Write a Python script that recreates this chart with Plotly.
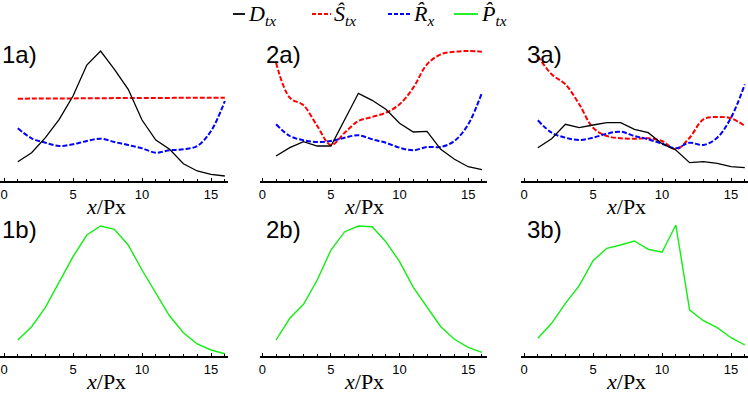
import plotly.graph_objects as go

# pixel position along the strip
x_px = list(range(1, 17))

# top row (a): D_tx, S_tx, R_x  (arbitrary units)
d_1a = [19.3, 28.3, 43.3, 61.7, 85.0, 116.0, 130.0, 111.7, 91.7, 61.0, 41.0, 31.7, 17.3, 10.0, 6.7, 5.0]
s_1a = [82.3, 82.4, 82.5, 82.5, 82.6, 82.7, 82.8, 82.9, 83.0, 83.0, 83.1, 83.1, 83.2, 83.2, 83.3, 83.3]
r_1a = [52.7, 42.7, 38.3, 35.0, 36.7, 40.0, 42.3, 39.0, 36.0, 32.7, 28.3, 30.7, 31.7, 35.0, 50.0, 80.0]

d_2a = [25.0, 33.3, 39.3, 35.0, 35.0, 61.7, 87.7, 80.7, 71.7, 57.7, 49.0, 49.7, 31.7, 21.7, 14.3, 11.3]
s_2a = [118.3, 83.3, 75.7, 55.0, 36.0, 48.3, 60.0, 64.0, 68.3, 76.7, 93.3, 116.7, 126.7, 129.3, 130.0, 129.3]
r_2a = [56.7, 45.0, 40.7, 39.0, 40.0, 43.3, 45.7, 41.7, 38.3, 33.3, 30.7, 34.0, 34.0, 40.0, 56.7, 88.3]

d_3a = [33.3, 42.3, 56.7, 53.3, 56.0, 58.3, 58.3, 51.7, 48.3, 37.3, 31.0, 18.3, 19.3, 17.7, 14.3, 13.3]
s_3a = [125.0, 106.7, 96.7, 76.7, 53.3, 45.0, 42.7, 42.3, 42.7, 40.0, 31.7, 43.3, 61.7, 64.0, 62.7, 55.0]
r_3a = [60.7, 48.3, 43.3, 41.0, 43.3, 47.3, 49.3, 45.0, 41.7, 37.3, 32.7, 38.3, 36.0, 43.3, 63.3, 96.7]

# bottom row (b): P_tx
p_1b = [16.0, 29.3, 48.7, 74.3, 99.3, 121.0, 130.0, 126.7, 111.0, 86.0, 62.7, 40.0, 23.3, 12.0, 6.0, 2.3]
p_2b = [16.0, 37.7, 51.7, 76.0, 106.0, 124.3, 130.0, 129.3, 114.3, 94.3, 68.7, 48.7, 29.3, 16.7, 8.7, 3.7]
p_3b = [17.7, 32.7, 52.7, 70.3, 95.3, 107.7, 111.0, 115.0, 106.7, 103.7, 131.0, 46.0, 35.3, 28.3, 18.3, 11.0]

panel_names = ['1a)', '2a)', '3a)', '1b)', '2b)', '3b)']
x_title = '<i>x</i>/Px'

colors = {'D': 'black', 'S': '#ff0000', 'R': '#0000ff', 'P': '#11ee11'}

W, H = 748, 393

def px_x(p):
    return p / W

def px_y(p):
    return 1 - p / H

# column geometry: (left px, right px, x range)
cols = [(0, 228, [-0.29, 16.23]),
        (260, 487, [-0.17, 16.37]),
        (521, 748, [-0.22, 16.23])]
# row geometry: (top px, axis px)
rows = [(41, 181), (216, 356)]

fig = go.Figure()

top = [(d_1a, s_1a, r_1a), (d_2a, s_2a, r_2a), (d_3a, s_3a, r_3a)]
bottom = [p_1b, p_2b, p_3b]

for i, (d, s, r) in enumerate(top):
    ax = str(i + 1) if i else ''
    fig.add_trace(go.Scatter(x=x_px, y=s, mode='lines', line=dict(color=colors['S'], width=2, dash='5px,2px', shape='spline'),
                             xaxis='x' + ax, yaxis='y' + ax, showlegend=False))
    fig.add_trace(go.Scatter(x=x_px, y=r, mode='lines', line=dict(color=colors['R'], width=2, dash='5px,2px', shape='spline'),
                             xaxis='x' + ax, yaxis='y' + ax, showlegend=False))
    fig.add_trace(go.Scatter(x=x_px, y=d, mode='lines', line=dict(color=colors['D'], width=1.3),
                             xaxis='x' + ax, yaxis='y' + ax, showlegend=False))

for i, p in enumerate(bottom):
    ax = str(i + 4)
    fig.add_trace(go.Scatter(x=x_px, y=p, mode='lines', line=dict(color=colors['P'], width=1.4),
                             xaxis='x' + ax, yaxis='y' + ax, showlegend=False))

layout = dict(width=W, height=H, margin=dict(l=0, r=0, t=0, b=0),
              paper_bgcolor='white', plot_bgcolor='white', showlegend=False)

annotations = []
for ri, (ytop, yaxis_px) in enumerate(rows):
    for ci, (left, right, xr) in enumerate(cols):
        n = ri * 3 + ci + 1
        key = '' if n == 1 else str(n)
        layout['xaxis' + key] = dict(
            domain=[px_x(left), px_x(right)], range=xr, anchor='y' + key,
            showline=True, linecolor='black', linewidth=2, showgrid=False, zeroline=False,
            tickmode='array', tickvals=[0, 5, 10, 15], ticks='inside', ticklen=3, tickcolor='black',
            minor=dict(tickmode='array', tickvals=list(range(0, 17)), ticks='inside', ticklen=2, tickcolor='black'),
            tickfont=dict(family='Liberation Sans, Arial', size=13, color='black'),
            fixedrange=True)
        layout['yaxis' + key] = dict(
            domain=[px_y(yaxis_px), px_y(ytop)], range=[0, 140], anchor='x' + key,
            visible=False, fixedrange=True)
        # panel label
        annotations.append(dict(text=panel_names[n - 1], xref='paper', yref='paper',
                                x=px_x(left if ci == 0 else left + 4), y=px_y(ytop + 13),
                                xanchor='left', yanchor='middle', showarrow=False,
                                font=dict(family='Liberation Sans, Arial', size=24, color='black')))
        # x axis title
        annotations.append(dict(text=x_title, xref='x' + key, yref='paper',
                                x=7.4, y=px_y(yaxis_px + 25), xanchor='center', yanchor='middle',
                                showarrow=False, borderpad=0,
                                font=dict(family='Liberation Serif, Times New Roman', size=22, color='black')))

# legend drawn by hand across the top
legend_items = [
    ('D', 'solid', 233, 245, '<i>D</i><sub><i>tx</i></sub>'),
    ('S', '4px,2px', 312, 331, '<i>\u015c</i><sub><i>tx</i></sub>'),
    ('R', '4px,2px', 388, 410, '<i>R\u0302</i><sub><i>x</i></sub>'),
    ('P', 'solid', 454, 478, '<i>P\u0302</i><sub><i>tx</i></sub>'),
]
shapes = []
for k, dash, x0, x1, label in legend_items:
    shapes.append(dict(type='line', xref='paper', yref='paper',
                       x0=px_x(x0), x1=px_x(x1), y0=px_y(14), y1=px_y(14),
                       line=dict(color=colors[k], width=2 if k in 'SR' else 1.8, dash=dash)))
    annotations.append(dict(text=label, xref='paper', yref='paper', x=px_x(x1 + 1), y=px_y(15),
                            xanchor='left', yanchor='middle', showarrow=False,
                            font=dict(family='Liberation Serif, Times New Roman', size=22, color='black')))

layout['annotations'] = annotations
layout['shapes'] = shapes
fig.update_layout(**layout)

# page body has an 8px default margin; drop it so the figure sits at the corner
fig.write_html('out.html', config={'displayModeBar': False},
               post_script="document.body.style.margin='0';")
